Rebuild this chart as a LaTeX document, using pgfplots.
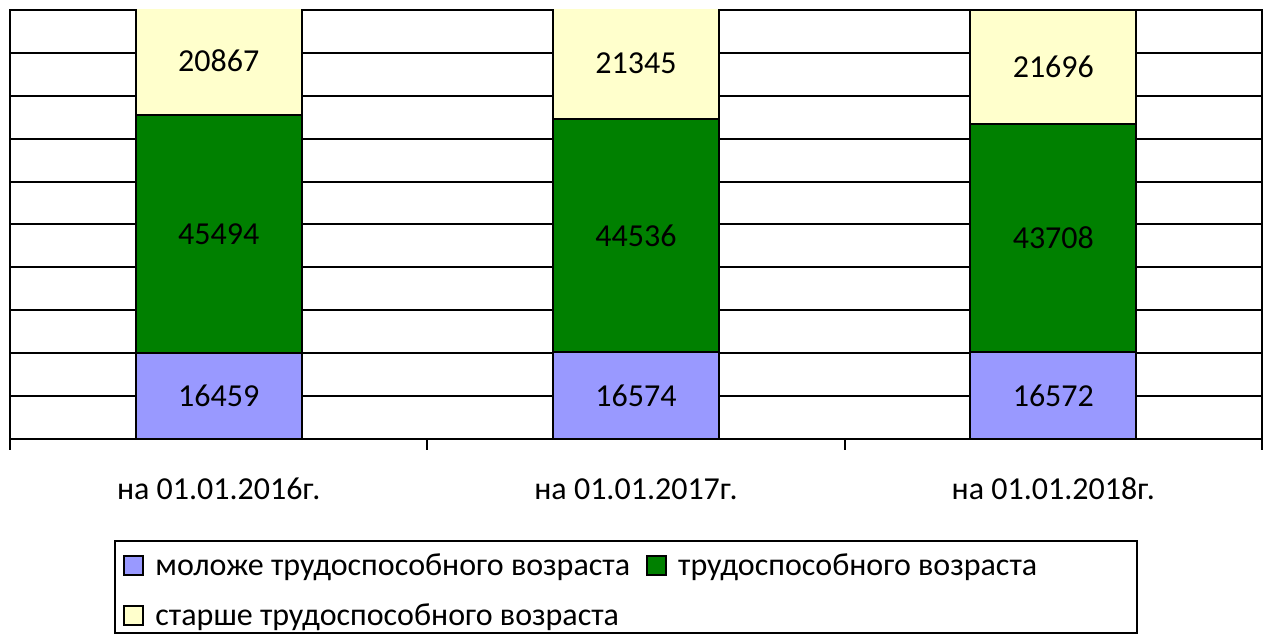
\documentclass[border=0pt]{standalone}
\usepackage{pgfplots}
\pgfplotsset{compat=1.18}
\usepackage{fontspec}
\setmainfont{Carlito}
\definecolor{cblue}{HTML}{9999FF}
\definecolor{cgreen}{HTML}{008000}
\definecolor{cyellow}{HTML}{FFFFCC}
\newcommand{\lblfont}{\fontsize{16}{19}\selectfont}
\begin{document}
\begin{tikzpicture}
\useasboundingbox (-5pt,-101pt) rectangle (630pt,219.5pt);
\begin{axis}[
  at={(0,0)}, anchor=south west,
  scale only axis, width=626pt, height=214.5pt,
  xmin=-0.5, xmax=2.5, ymin=0, ymax=82000,
  ybar stacked, bar width=83pt,
  axis line style={black, line width=1pt},
  tick pos=bottom,
  xtick={0,1,2},
  xticklabels={на 01.01.2016г., на 01.01.2017г., на 01.01.2018г.},
  x tick label style={font=\lblfont, anchor=base, yshift=-30.5pt},
  xtick style={draw=none},
  extra x ticks={-0.5,0.5,1.5,2.5},
  extra x tick labels={},
  extra x tick style={tick align=outside, major tick length=5.5pt, xtick style={draw=black, line width=1pt}},
  ytick={8200,16400,24600,32800,41000,49200,57400,65600,73800},
  yticklabels={},
  ytick style={draw=none},
  ymajorgrids, grid style={black, line width=1pt},
  legend columns=2,
  legend style={draw=none, fill=none, font=\lblfont, inner sep=0pt,
    nodes={inner sep=1pt}, anchor=west, at={(0.0903,-0.3545)},
    row sep=11pt,
    /tikz/every odd column/.append style={column sep=4.5pt},
    /tikz/every even column/.append style={column sep=7pt}},
  legend cell align=left,
  legend image code/.code={\draw[#1, line width=1pt] (0pt,-4.5pt) rectangle (9.5pt,5pt);},
]
\addplot[fill=cblue, draw=black, line width=0.9pt] coordinates {(0,16459) (1,16574) (2,16572)};
\addlegendentry{моложе трудоспособного возраста}
\addplot[fill=cgreen, draw=black, line width=0.9pt] coordinates {(0,45494) (1,44536) (2,43708)};
\addlegendentry{трудоспособного возраста}
\addplot[fill=cyellow, draw=black, line width=0.9pt] coordinates {(0,20867) (1,21345) (2,21696)};
\addlegendentry{старше трудоспособного возраста}
\end{axis}
\begin{axis}[
  at={(0,0)}, anchor=south west,
  scale only axis, width=626pt, height=214.5pt,
  xmin=-0.5, xmax=2.5, ymin=0, ymax=82000,
  hide axis, clip=false,
]
\addplot[only marks, mark=none, nodes near coords, point meta=explicit symbolic,
  every node near coord/.append style={anchor=center, font=\lblfont, black}]
  coordinates {
  (0,8229.5) [16459] (1,8287) [16574] (2,8286) [16572]
  (0,39206) [45494] (1,38842) [44536] (2,38426) [43708]
  (0,72386.5) [20867] (1,71782.5) [21345] (2,71128) [21696]
  };
\end{axis}
\draw[black, line width=0.8pt] (52.5pt,-51pt) rectangle (563.5pt,-97pt);
\end{tikzpicture}
\end{document}
